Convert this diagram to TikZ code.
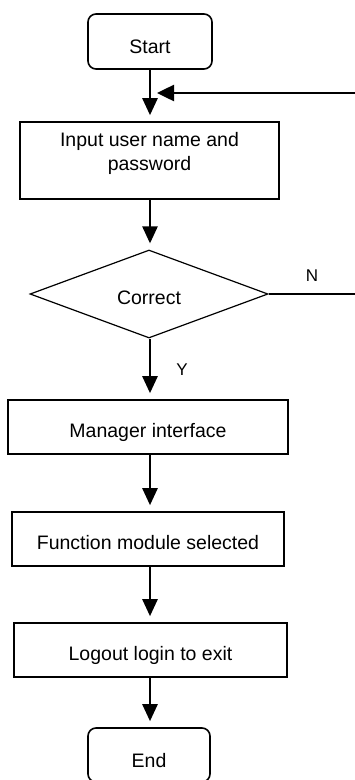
\documentclass[tikz,border=0pt]{standalone}
\usepackage{fontspec}
\setmainfont{Liberation Sans}
\usetikzlibrary{shapes.geometric,arrows.meta}

\begin{document}
\begin{tikzpicture}[x=1pt,y=-1pt,
  txt/.style={font=\fontsize{19.5}{24}\selectfont},
  box/.style={draw, line width=1.6pt, inner sep=0pt, txt, align=center,
              text height=20pt, text depth=0pt},
  term/.style={box, rounded corners=8pt, text height=24pt},
  decision/.style={draw, diamond, line width=1.2pt, inner sep=0pt, txt,
                   aspect=2.7, text height=20pt, text depth=0pt},
  flow/.style={line width=2.5pt, -{Triangle[length=17pt,width=15pt]},
               shorten >=6pt},
  back/.style={line width=2.5pt, -{Triangle[length=17pt,width=16pt]}},
  plain/.style={line width=1.3pt},
  lbl/.style={font=\fontsize{17}{20}\selectfont, inner sep=0pt},
  ]
  \useasboundingbox (0,0) rectangle (355,780);

  % flowchart nodes
  \node[term, minimum width=124pt, minimum height=55pt] (start) at (150,41.5) {Start};
  \node[box, minimum width=259pt, minimum height=77pt] (input) at (149.5,160.5)
       {Input user name and\\password};
  \node[decision, minimum width=238pt, minimum height=88pt] (check) at (149,294) {Correct};
  \node[box, minimum width=280pt, minimum height=54pt] (manager) at (148,427) {Manager interface};
  \node[box, minimum width=272pt, minimum height=54pt] (func) at (148,539) {Function module selected};
  \node[box, minimum width=273pt, minimum height=54pt] (logout) at (150.5,650) {Logout login to exit};
  \node[term, minimum width=122pt, minimum height=54pt] (end) at (149,755) {End};

  % main flow
  \draw[flow] (start.south -| 150,0) -- (input.north -| 150,0);
  \draw[flow] (input.south -| 150,0) -- (check.north -| 150,0);
  \draw[flow] (check.south -| 150,0) -- (manager.north -| 150,0);
  \draw[flow] (manager.south -| 150,0) -- (func.north -| 150,0);
  \draw[flow] (func.south -| 150,0) -- (logout.north -| 150,0);
  \draw[flow] (logout.south -| 150,0) -- (end.north -| 150,0);

  % "N" branch back to the input step
  \coordinate (nout) at (355,294);
  \coordinate (retin) at (355,93);
  \coordinate (retend) at (157,93);
  \draw[plain] (check.east) -- (nout);
  \draw[back] (retin) -- (retend);

  % branch labels
  \node[lbl] (nlab) at (312,276) {N};
  \node[lbl] (ylab) at (182,370) {Y};
\end{tikzpicture}
\end{document}
